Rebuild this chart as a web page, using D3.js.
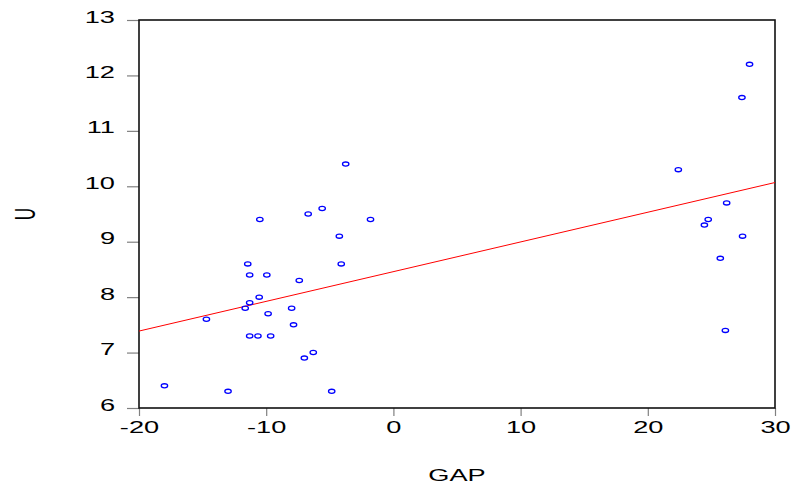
<!DOCTYPE html>
<html>
<head>
<meta charset="utf-8">
<script src="https://cdn.jsdelivr.net/npm/d3@7"></script>
<style>
  html, body { margin: 0; padding: 0; background: #fff; }
  svg { display: block; }
  text { font-family: "Liberation Sans", Arial, sans-serif; fill: #000; }
</style>
</head>
<body>
<svg id="chart" width="793" height="484"></svg>
<script>
// ---- data ----
const gapValues = [-3.75, -5.6, -6.7, -10.5, -1.8, -4.25, -11.45, -4.1, -11.3, -9.95,
  -7.4, -10.55, -11.3, -11.65, -8.0, -14.7, -9.85, -7.85, -11.3, -10.65,
  -9.65, -6.3, -7.0, -18.0, -13.0, -4.85,
  28.0, 27.4, 22.4, 26.2, 24.75, 24.45, 27.45, 25.7, 26.1];
const uValues = [10.4, 9.6, 9.5, 9.4, 9.4, 9.1, 8.6, 8.6, 8.4, 8.4,
  8.3, 8.0, 7.9, 7.8, 7.8, 7.6, 7.7, 7.5, 7.3, 7.3,
  7.3, 7.0, 6.9, 6.4, 6.3, 6.3,
  12.2, 11.6, 10.3, 9.7, 9.4, 9.3, 9.1, 8.7, 7.4];
const fitIntercept = 8.46;
const fitSlope = 0.0536;
const xTicks = [-20, -10, 0, 10, 20, 30];
const yTicks = [6, 7, 8, 9, 10, 11, 12, 13];
const xTitle = "GAP";
const yTitle = "U";

// ---- layout ----
const svg = d3.select("#chart");
const mLeft = 139, mRight = 775, mTop = 20, mBottom = 408;
const stretch = 1.7;
const x = d3.scaleLinear().domain([-20, 30]).range([mLeft, mRight]);
const y = d3.scaleLinear().domain([6, 13]).range([mBottom, mTop]);
const fmt = d => String(d);

// axes
const yAxis = svg.append("g").attr("transform", `translate(${mLeft},0)`)
  .call(d3.axisLeft(y).tickValues(yTicks).tickSize(12).tickFormat(fmt));
yAxis.select(".domain").remove();
yAxis.selectAll(".tick line").attr("stroke", "#808080").attr("stroke-width", 1.2);
yAxis.selectAll(".tick text")
  .attr("x", null).attr("dy", null)
  .attr("text-anchor", "end")
  .attr("font-size", 16)
  .attr("font-family", "Liberation Sans, Arial, sans-serif")
  .attr("fill", "#000")
  .attr("transform", `translate(-24,2) scale(${stretch},1)`);

const xAxis = svg.append("g").attr("transform", `translate(0,${mBottom})`)
  .call(d3.axisBottom(x).tickValues(xTicks).tickSize(8).tickFormat(fmt));
xAxis.select(".domain").remove();
xAxis.selectAll(".tick line").attr("stroke", "#808080").attr("stroke-width", 1.2);
xAxis.selectAll(".tick text")
  .attr("y", null).attr("dy", null)
  .attr("text-anchor", "middle")
  .attr("font-size", 16)
  .attr("font-family", "Liberation Sans, Arial, sans-serif")
  .attr("fill", "#000")
  .attr("transform", `translate(0,25.3) scale(${stretch},1)`);

// frame
svg.append("rect")
  .attr("x", mLeft).attr("y", mTop)
  .attr("width", mRight - mLeft).attr("height", mBottom - mTop)
  .attr("fill", "none").attr("stroke", "#111").attr("stroke-width", 1.6);

// regression line
const xd = x.domain();
svg.append("line")
  .attr("x1", x(xd[0])).attr("y1", y(fitIntercept + fitSlope * xd[0]))
  .attr("x2", x(xd[1])).attr("y2", y(fitIntercept + fitSlope * xd[1]))
  .attr("stroke", "#ff0000").attr("stroke-width", 1);

// points
const pts = gapValues.map((g, i) => ({ g, u: uValues[i] }));
svg.append("g").selectAll("ellipse").data(pts).join("ellipse")
  .attr("cx", d => x(d.g)).attr("cy", d => y(d.u))
  .attr("rx", 3.2).attr("ry", 2.1)
  .attr("fill", "none").attr("stroke", "#0000ff").attr("stroke-width", 1.3);

// titles
svg.append("text")
  .attr("text-anchor", "middle").attr("font-size", 16)
  .attr("transform", `translate(${(mLeft + mRight) / 2},480.5) scale(${stretch},1)`)
  .text(xTitle);
svg.append("text")
  .attr("text-anchor", "middle").attr("font-size", 17)
  .attr("transform", `translate(35,${(mTop + mBottom) / 2}) scale(${stretch},1) rotate(-90)`)
  .text(yTitle);
</script>
</body>
</html>
